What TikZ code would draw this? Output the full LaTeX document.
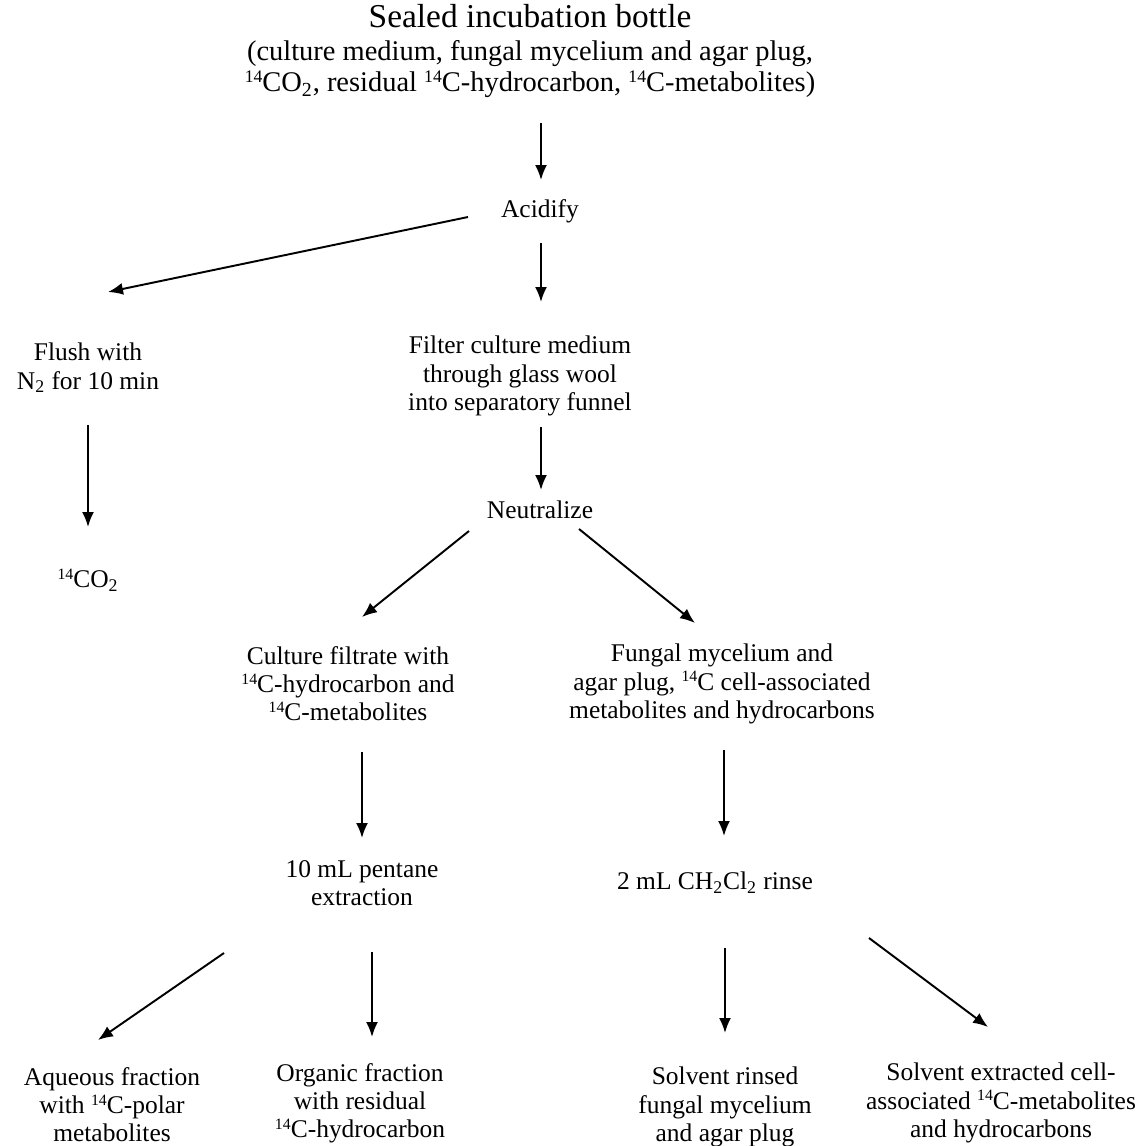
\documentclass[tikz,border=0pt]{standalone}
\usepackage{fontspec}
\setmainfont{Liberation Serif}
\usepackage{tikz}
\usetikzlibrary{arrows.meta}

\newcommand{\fourteen}{\raisebox{0.7ex}{\scalebox{0.62}{14}}}

\begin{document}
\begin{tikzpicture}[x=0.02cm, y=-0.02cm,
        txt/.style={align=center, inner sep=0pt, font={\fontsize{14.5}{16}\selectfont}},
        arr/.style={line width=1.1pt, -{Latex[length=0.3cm, width=0.24cm]}}]
    \useasboundingbox (0,0) rectangle (1141,1146);
    % steps of the procedure
    \node[txt, font={\fontsize{19}{20}\selectfont}] (title) at (530,16) {Sealed incubation bottle};
    \node[txt, font={\fontsize{16.2}{18}\selectfont}] (bottle) at (530,69) {(culture medium, fungal mycelium and agar plug,\\
        \fourteen CO\textsubscript{2}, residual \fourteen C-hydrocarbon, \fourteen C-metabolites)};
    \node[txt] (acidify) at (540,211) {Acidify};
    \node[txt] (flush) at (88,368) {Flush with\\N\textsubscript{2} for 10 min};
    \node[txt] (filter) at (520,376) {Filter culture medium\\through glass wool\\into separatory funnel};
    \node[txt] (co2) at (88,580) {\fourteen CO\textsubscript{2}};
    \node[txt] (neutral) at (540,510) {Neutralize};
    \node[txt] (filtrate) at (348,684) {Culture filtrate with\\\fourteen C-hydrocarbon and\\\fourteen C-metabolites};
    \node[txt] (mycel) at (722,684) {Fungal mycelium and\\agar plug, \fourteen C cell-associated\\metabolites and hydrocarbons};
    \node[txt] (pentane) at (362,883) {10 mL pentane\\extraction};
    \node[txt] (rinse) at (715,883) {2 mL CH\textsubscript{2}Cl\textsubscript{2} rinse};
    \node[txt] (aqueous) at (112,1105) {Aqueous fraction\\with \fourteen C-polar\\metabolites};
    \node[txt] (organic) at (360,1103) {Organic fraction\\with residual\\\fourteen C-hydrocarbon};
    \node[txt] (rinsed) at (725,1107) {Solvent rinsed\\fungal mycelium\\and agar plug};
    \node[txt] (extracted) at (1001,1103) {Solvent extracted cell-\\associated \fourteen C-metabolites\\and hydrocarbons};

    % arrows
    \draw[arr] ([shift={(11,54)}]bottle.center) -- ([shift={(1,-31)}]acidify.center);
    \draw[arr] ([shift={(-72,6)}]acidify.center) -- ([shift={(20,-76)}]flush.center);
    \draw[arr] ([shift={(1,32)}]acidify.center) -- ([shift={(21,-74)}]filter.center);
    \draw[arr] ([shift={(0,57)}]flush.center) -- ([shift={(0,-53)}]co2.center);
    \draw[arr] ([shift={(21,51)}]filter.center) -- ([shift={(1,-20)}]neutral.center);
    \draw[arr] ([shift={(-71,21)}]neutral.center) -- ([shift={(14,-67)}]filtrate.center);
    \draw[arr] ([shift={(39,19)}]neutral.center) -- ([shift={(-27,-61)}]mycel.center);
    \draw[arr] ([shift={(14,68)}]filtrate.center) -- ([shift={(0,-45)}]pentane.center);
    \draw[arr] ([shift={(2,66)}]mycel.center) -- ([shift={(9,-47)}]rinse.center);
    \draw[arr] ([shift={(-138,70)}]pentane.center) -- ([shift={(-14,-65)}]aqueous.center);
    \draw[arr] ([shift={(10,69)}]pentane.center) -- ([shift={(12,-66)}]organic.center);
    \draw[arr] ([shift={(10,65)}]rinse.center) -- ([shift={(0,-74)}]rinsed.center);
    \draw[arr] ([shift={(154,55)}]rinse.center) -- ([shift={(-13,-76)}]extracted.center);
\end{tikzpicture}
\end{document}
